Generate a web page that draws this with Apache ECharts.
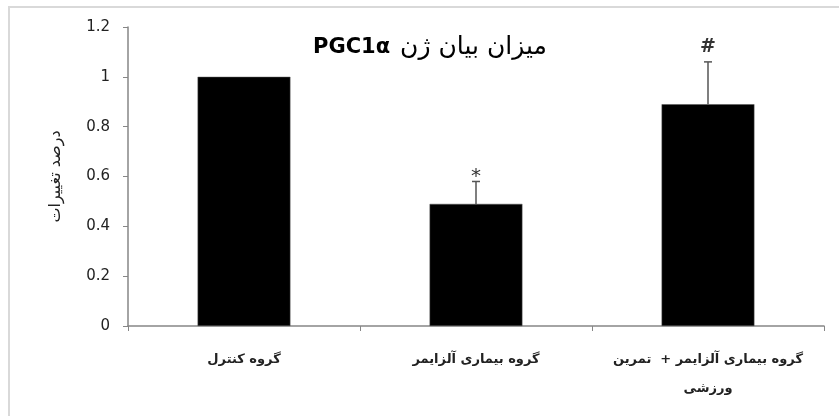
<!DOCTYPE html>
<html>
<head>
<meta charset="utf-8">
<script src="https://cdn.jsdelivr.net/npm/echarts@6/dist/echarts.min.js"></script>
<style>
    html, body { margin: 0; padding: 0; background: #fff; }
    #chart { width: 839px; height: 416px; }
</style>
</head>
<body>
<div id="chart"></div>
<script>
// data
var categories = ['گروه کنترل', 'گروه بیماری آلزایمر', 'گروه بیماری آلزایمر +  تمرین\nورزشی'];
var means = [1, 0.49, 0.89];
var errors = [0, 0.09, 0.17];
var marks = ['', '*', '#'];
var yTicks = [0, 0.2, 0.4, 0.6, 0.8, 1, 1.2];

(function () {
    var chart = echarts.init(document.getElementById('chart'));

    var errorData = means.map(function (m, i) {
        return [i, m, m + errors[i]];
    });

    var option = {
        backgroundColor: '#fff',
        animation: false,

        graphic: [
            {
                type: 'rect',
                shape: { x: 9, y: 7, width: 840, height: 420 },
                style: { fill: 'none', stroke: '#d9d9d9', lineWidth: 2 },
                silent: true
            }
        ],

        title: {
            text: '{b|PGC1α}  {a|میزان بیان ژن}',
            left: 308,
            top: 30,
            textStyle: {
                fontWeight: 'normal',
                rich: {
                    b: { fontFamily: 'DejaVu Sans', fontWeight: 'bold', fontSize: 21, color: '#000' },
                    a: { fontFamily: 'DejaVu Sans', fontWeight: 'normal', fontSize: 25, color: '#000' }
                }
            }
        },

        grid: {
            left: 128,
            right: 15,
            top: 27,
            bottom: 90
        },

        xAxis: {
            type: 'category',
            data: categories,
            axisLine: { lineStyle: { color: '#868686', width: 1.5 } },
            axisTick: { show: true, length: 5, lineStyle: { color: '#868686' } },
            axisLabel: {
                interval: 0,
                margin: 19,
                fontFamily: 'DejaVu Sans',
                fontSize: 13,
                fontWeight: 'bold',
                color: '#222',
                lineHeight: 29
            }
        },

        yAxis: {
            type: 'value',
            min: 0,
            max: 1.2,
            interval: 0.2,
            name: 'درصد تغییرات',
            nameLocation: 'middle',
            nameGap: 64,
            nameTextStyle: { fontFamily: 'DejaVu Sans', fontSize: 16, color: '#222' },
            splitLine: { show: false },
            axisLine: { show: true, lineStyle: { color: '#868686', width: 1.5 } },
            axisTick: { show: true, length: 5, lineStyle: { color: '#868686' } },
            axisLabel: {
                margin: 18,
                fontFamily: 'DejaVu Sans',
                fontSize: 15,
                color: '#222',
                formatter: function (v) {
                    var t = yTicks.filter(function (x) { return Math.abs(x - v) < 1e-6; });
                    return t.length ? String(t[0]) : '';
                }
            }
        },

        series: [
            {
                type: 'bar',
                data: means,
                barWidth: '40%',
                itemStyle: { color: '#000', borderColor: '#555', borderWidth: 0.5 }
            },
            {
                type: 'custom',
                data: errorData,
                z: 5,
                renderItem: function (params, api) {
                    var i = api.value(0);
                    var base = api.coord([i, api.value(1)]);
                    var top = api.coord([i, api.value(2)]);
                    var mark = marks[params.dataIndex];
                    var children = [];
                    if (top[1] < base[1] - 0.5) {
                        children.push({
                            type: 'line',
                            shape: { x1: base[0], y1: base[1], x2: top[0], y2: top[1] },
                            style: { stroke: '#555', lineWidth: 1.5 }
                        });
                        children.push({
                            type: 'line',
                            shape: { x1: top[0] - 4, y1: top[1], x2: top[0] + 4, y2: top[1] },
                            style: { stroke: '#555', lineWidth: 1.5 }
                        });
                    }
                    if (mark) {
                        children.push({
                            type: 'text',
                            style: {
                                text: mark,
                                x: top[0],
                                y: top[1] + (mark === '*' ? 5 : -5),
                                align: 'center',
                                verticalAlign: 'bottom',
                                fontFamily: 'DejaVu Sans',
                                fontWeight: mark === '#' ? 'bold' : 'normal',
                                fontSize: mark === '*' ? 20 : 19,
                                fill: '#333'
                            }
                        });
                    }
                    return { type: 'group', children: children };
                }
            }
        ]
    };

    chart.setOption(option);
})();
</script>
</body>
</html>
